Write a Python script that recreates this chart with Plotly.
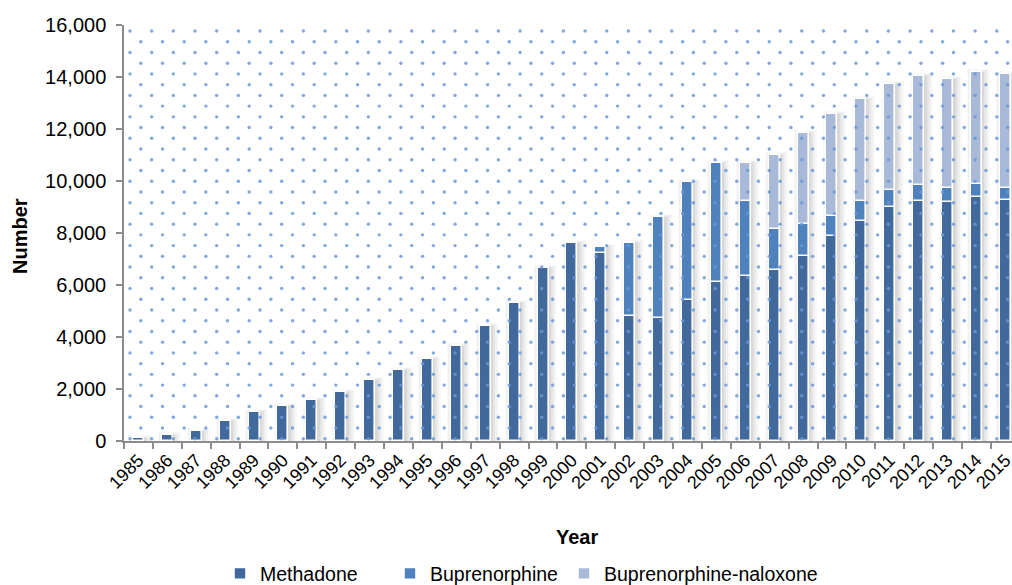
import numpy as np
import plotly.graph_objects as go

# Clients receiving opioid pharmacotherapy, by drug and year
years = list(range(1985, 2016))
methadone = [120, 230, 400, 760, 1100, 1350, 1570, 1900, 2350, 2730, 3150, 3650,
             4420, 5290, 6660, 7600, 7220, 4820, 4740, 5420, 6100, 6360, 6580, 7120,
             7880, 8470, 8990, 9230, 9180, 9400, 9270]
buprenorphine = [0, 0, 0, 0, 0, 0, 0, 0, 0, 0, 0, 0,
                 0, 0, 0, 0, 250, 2810, 3890, 4530, 4600, 2880, 1560, 1230,
                 770, 770, 660, 620, 560, 470, 470]
bup_naloxone = [0, 0, 0, 0, 0, 0, 0, 0, 0, 0, 0, 0,
                0, 0, 0, 0, 0, 0, 0, 0, 0, 1440, 2860, 3500,
                3920, 3910, 4080, 4200, 4180, 4330, 4360]
y_ticks = [0, 2000, 4000, 6000, 8000, 10000, 12000, 14000, 16000]

C_METH = "#41699C"
C_BUP = "#4F81BD"
C_BNX = "#A9B9D8"
DOT = "#6A98D8"
AXIS = "#8C8C8C"

FONT = "Liberation Sans, Arial, sans-serif"
W, H = 1012, 585
ML, MR, MT, MB = 124, 0, 25, 144
X0, X1 = 1984.5, 2015.23
Y0, Y1 = 0, 16000
PLOT_W, PLOT_H = W - ML - MR, H - MT - MB

yrs = np.array(years, dtype=float)
meth = np.array(methadone, dtype=float)
bup = np.array(buprenorphine, dtype=float)
bnx = np.array(bup_naloxone, dtype=float)
total = meth + bup + bnx

# pixel -> data conversions for the plot area
px_x = (X1 - X0) / PLOT_W
px_y = (Y1 - Y0) / PLOT_H

fig = go.Figure()

# staggered dot fill of the plot background
dx, dy = 21.67 * px_x, 10.73 * px_y
dots_x, dots_y = [], []
yy = Y1 - 6 * px_y
row = 0
while yy > Y0:
    xx = X0 + 6 * px_x + (dx / 2 if row % 2 else 0)
    while xx < X1:
        dots_x.append(xx)
        dots_y.append(yy)
        xx += dx
    yy -= dy
    row += 1
fig.add_trace(go.Scatter(x=dots_x, y=dots_y, mode="markers",
                         marker=dict(size=3.4, color=DOT, opacity=0.85),
                         hoverinfo="skip", showlegend=False))

bar_w = 11 * px_x
# soft drop shadow around every column, heavier to the right
for off, extra, top, alpha in [(2.5, 12, 3, 0.025), (2.0, 9, 2, 0.035),
                               (1.5, 6, 1, 0.045), (1.0, 3, 0, 0.055)]:
    fig.add_trace(go.Bar(x=yrs + off * px_x, y=total + top * px_y, base=0,
                         width=bar_w + extra * px_x,
                         marker=dict(color=f"rgba(0,0,0,{alpha})", line_width=0),
                         hoverinfo="skip", showlegend=False))

line = dict(color="white", width=1.6)
fig.add_trace(go.Bar(name="Methadone", x=yrs, y=meth, base=0, width=bar_w,
                     marker=dict(color=C_METH, line=line), legend="legend"))
fig.add_trace(go.Bar(name="Buprenorphine", x=yrs, y=bup, base=meth, width=bar_w,
                     marker=dict(color=C_BUP, line=line), legend="legend2"))
fig.add_trace(go.Bar(name="Buprenorphine-naloxone", x=yrs, y=bnx, base=meth + bup,
                     width=bar_w, marker=dict(color=C_BNX, line=line),
                     legend="legend3"))


def legend_at(left_px):
    return dict(orientation="h", x=(left_px - ML) / PLOT_W, xanchor="left",
                y=-0.272, yanchor="top", font=dict(size=19.5), itemwidth=30,
                bgcolor="rgba(0,0,0,0)")


fig.update_layout(
    width=W, height=H,
    margin=dict(l=ML, r=MR, t=MT, b=MB, autoexpand=False),
    barmode="overlay", bargap=0,
    plot_bgcolor="white", paper_bgcolor="white",
    font=dict(family=FONT, color="black"),
    legend=legend_at(220),
    legend2=legend_at(390),
    legend3=legend_at(564),
    annotations=[
        dict(text="<b>Year</b>", xref="paper", yref="paper",
             x=(577 - ML) / PLOT_W, y=-(537 - (MT + PLOT_H)) / PLOT_H,
             xanchor="center", yanchor="middle", showarrow=False,
             font=dict(size=20)),
        dict(text="<b>Number</b>", xref="paper", yref="paper", textangle=-90,
             x=(20 - ML) / PLOT_W, y=((MT + PLOT_H) - 236) / PLOT_H,
             xanchor="center", yanchor="middle", showarrow=False,
             font=dict(size=20)),
    ],
)

fig.update_xaxes(
    range=[X0, X1], tickvals=years, ticktext=[str(y) for y in years],
    tickangle=-45, tickfont=dict(size=18), ticks="", showgrid=False,
    ticklabeloverflow="allow", automargin=False,
    showline=True, linecolor=AXIS, linewidth=1.5, zeroline=False,
    minor=dict(tickvals=list(yrs - 0.5) + [yrs[-1] + 0.5], ticks="outside",
               ticklen=6, tickcolor=AXIS, tickwidth=1.5, showgrid=False),
    fixedrange=True,
)
fig.update_yaxes(
    range=[Y0, Y1], tickvals=y_ticks, tickformat=",d", automargin=False,
    tickfont=dict(size=20), ticks="outside", ticklen=6, tickcolor=AXIS,
    tickwidth=1.5, showgrid=False, showline=True, linecolor=AXIS,
    linewidth=1.5, zeroline=False, ticklabelstandoff=6,
    fixedrange=True,
)

fig.write_html("out.html")
